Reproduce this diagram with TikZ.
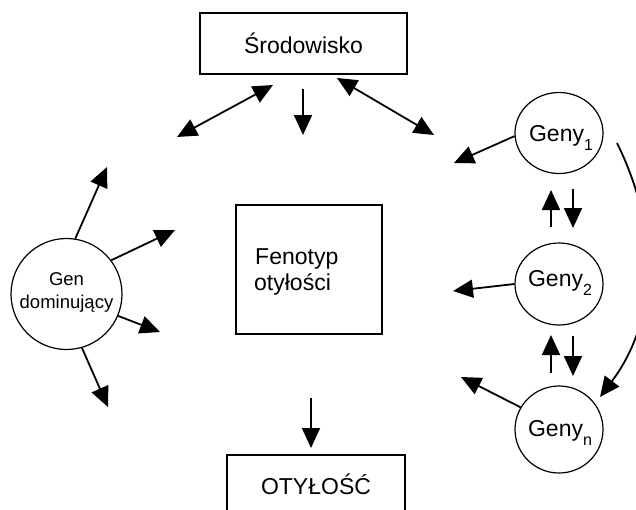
\documentclass[tikz,border=0pt]{standalone}
\usepackage{fontspec}
\setmainfont{Liberation Sans}
\usetikzlibrary{arrows.meta,shapes.geometric}
\newcommand\lowsub[1]{\raisebox{-9pt}{\fontsize{16}{16}\selectfont #1}}
\begin{document}
\begin{tikzpicture}[x=1pt,y=-1pt,
  box/.style={draw, line width=1.2pt, inner sep=0pt},
  oval/.style={draw, ellipse, line width=1.2pt, inner sep=0pt},
  arr/.style={line width=1.8pt, -{Triangle[length=20pt,width=18pt]}},
  darr/.style={line width=1.8pt, {Triangle[length=20pt,width=18pt]}-{Triangle[length=20pt,width=18pt]}},
  big/.style={font=\fontsize{23}{24}\selectfont},
  small/.style={font=\fontsize{18.5}{23}\selectfont}]
\useasboundingbox (0,0) rectangle (636,509);
\clip (0,0) rectangle (636,509);

% boxes
\node[box, big, minimum width=207pt, minimum height=61pt] (env) at (303.5,43.5) {Środowisko};
\node[box, minimum width=146pt, minimum height=129pt] (fen) at (309,269.5) {};
\node[big, anchor=base west, inner sep=0pt] (fen1) at (255,264) {Fenotyp};
\node[big, anchor=base west, inner sep=0pt] (fen2) at (254,290) {otyłości};
\node[box, big, minimum width=178pt, minimum height=58pt] (oty) at (316,484) {OTYŁOŚĆ};

% gene circles
\node[oval, minimum width=88pt, minimum height=81pt] (g1) at (559,133) {};
\node[oval, minimum width=88pt, minimum height=82pt] (g2) at (559,284) {};
\node[oval, minimum width=88pt, minimum height=87pt] (gn) at (559,429.5) {};
\node[big, anchor=base, inner sep=0pt] (g1t) at (561,141) {Geny\lowsub{1}};
\node[big, anchor=base, inner sep=0pt] (g2t) at (560,286) {Geny\lowsub{2}};
\node[big, anchor=base, inner sep=0pt] (gnt) at (560,436) {Geny\lowsub{n}};

\node[draw, circle, line width=1.2pt, minimum size=111pt, inner sep=0pt] (gd) at (66.5,294) {};
\node[small, align=center, inner sep=0pt] (gdt) at (66.5,292) {Gen\\dominujący};

% free ends
\coordinate (e1a) at (177,137); \coordinate (e1b) at (273,85);
\coordinate (e2a) at (303,89);  \coordinate (e2b) at (303,135);
\coordinate (e3a) at (337,78);  \coordinate (e3b) at (434,135);
\coordinate (f1) at (311,398);  \coordinate (f2) at (311,448);

\coordinate (t1) at (454,163);
\coordinate (t2) at (453,291);
\coordinate (tn) at (461,377);

\coordinate (u1a) at (551,227); \coordinate (u1b) at (551,190);
\coordinate (d1a) at (573,189); \coordinate (d1b) at (573,228);
\coordinate (u2a) at (551,373); \coordinate (u2b) at (551,335);
\coordinate (d2a) at (573,336); \coordinate (d2b) at (573,376);

\coordinate (c0) at (617,143); \coordinate (c3) at (600,397);

\coordinate (a1) at (107,167);
\coordinate (a2) at (175,230);
\coordinate (a3) at (160,332);
\coordinate (a4) at (108,407);

% connectors
\draw[darr] (e1a) -- (e1b);
\draw[arr] (e2a) -- (e2b);
\draw[darr] (e3a) -- (e3b);
\draw[arr] (f1) -- (f2);

\draw[arr] (g1.184) -- (t1);
\draw[arr] (g2.180) -- (t2);
\draw[arr] (gn.150) -- (tn);

\draw[arr] (u1a) -- (u1b);
\draw[arr] (d1a) -- (d1b);
\draw[arr] (u2a) -- (u2b);
\draw[arr] (d2a) -- (d2b);

\draw[arr] (c0) .. controls (660,230) and (658,320) .. (c3);

\draw[arr] (gd.81) -- (a1);
\draw[arr] (gd.37) -- (a2);
\draw[arr] (gd.337) -- (a3);
\draw[arr] (gd.286) -- (a4);
\end{tikzpicture}
\end{document}
